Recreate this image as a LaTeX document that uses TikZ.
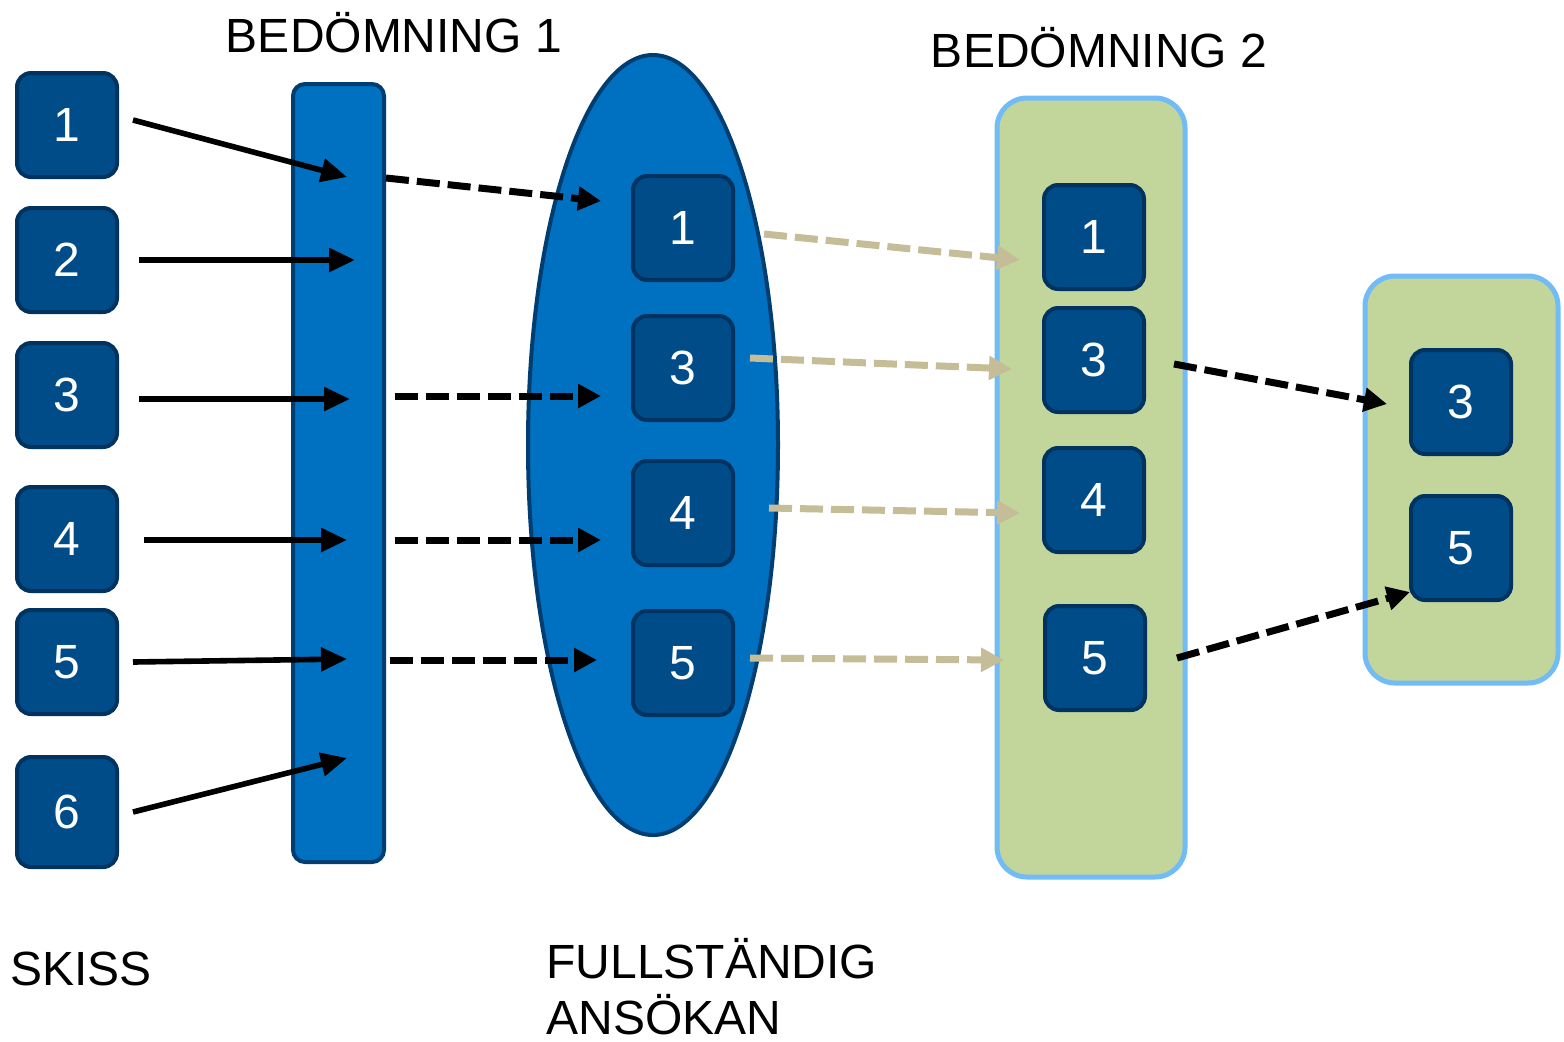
\documentclass[tikz,border=0pt]{standalone}
\usepackage{fontspec}
\setmainfont{Liberation Sans}
\usetikzlibrary{arrows.meta,calc,shapes.geometric}
\definecolor{sq}{HTML}{004C89}
\definecolor{sqb}{HTML}{00335F}
\definecolor{midb}{HTML}{0070C0}
\definecolor{midbb}{HTML}{003E72}
\definecolor{grn}{HTML}{C2D69B}
\definecolor{grnb}{HTML}{71BBF7}
\definecolor{beige}{HTML}{C4BD97}
\tikzset{
 numbox/.style={draw=sqb, fill=sq, line width=2pt, rounded corners=7pt, minimum width=50pt, minimum height=52pt, text=white, font=\fontsize{24}{28}\selectfont, inner sep=0pt},
 lbl/.style={font=\fontsize{24}{28}\selectfont, inner sep=0pt},
 leftlbl/.style={lbl, anchor=base west},
 solidarr/.style={line width=2.8pt, -{Triangle[length=13pt,width=11.5pt]}},
 darr/.style={line width=3.5pt, dash pattern=on 11.5pt off 4pt, -{Triangle[length=11.5pt,width=11.5pt]}},
 barr/.style={draw=beige, line width=3.5pt, dash pattern=on 11.5pt off 4pt, -{Triangle[length=11.5pt,width=11.5pt]}},
 greenbox/.style={draw=grnb, fill=grn, line width=2.5pt, rounded corners=15pt},
}
\begin{document}
\begin{tikzpicture}[x=0.5pt,y=-0.5pt]
\path[use as bounding box, fill=white] (0,0) rectangle (1564,1041);
% containers
\node[draw=midbb, fill=midb, line width=2pt, rounded corners=6pt, minimum width=45.5pt, minimum height=389pt, inner sep=0pt] (bar) at (338.5,473) {};
\node[ellipse, draw=midbb, fill=midb, line width=2pt, minimum width=125pt, minimum height=390pt, inner sep=0pt] (ell) at (653,445) {};
\node[greenbox, minimum width=94pt, minimum height=389.5pt, inner sep=0pt] (gb1) at (1091,487.5) {};
\node[greenbox, minimum width=96.5pt, minimum height=203.5pt, inner sep=0pt] (gb2) at (1461.5,479.5) {};
% labels
\node[lbl, anchor=base] (lb1) at (394,52) {BEDÖMNING 1};
\node[lbl, anchor=base] (lb2) at (1099,67) {BEDÖMNING 2};
\node[leftlbl] (lsk) at (10,985) {SKISS};
\node[leftlbl] (lfa) at (546,978) {FULLSTÄNDIG};
\node[leftlbl] (lfb) at (546,1034) {ANSÖKAN};
% skiss boxes
\node[numbox] (s1) at (67,125) {1};
\node[numbox] (s2) at (67,260) {2};
\node[numbox] (s3) at (67,395) {3};
\node[numbox] (s4) at (67,539) {4};
\node[numbox] (s5) at (67,662) {5};
\node[numbox, minimum height=55pt] (s6) at (67,812) {6};
% ellipse boxes
\node[numbox] (e1) at (683,228) {1};
\node[numbox] (e3) at (683,368) {3};
\node[numbox] (e4) at (683,513) {4};
\node[numbox] (e5) at (683,663) {5};
% green box 1
\node[numbox] (g1) at (1094,237) {1};
\node[numbox] (g3) at (1094,360) {3};
\node[numbox] (g4) at (1094,500) {4};
\node[numbox] (g5) at (1095,658) {5};
% green box 2
\node[numbox] (h3) at (1461,402) {3};
\node[numbox] (h5) at (1461,548) {5};
% target coordinates in the bar
\coordinate (b1) at (347,177);
\coordinate (b2) at (355,260);
\coordinate (b3) at (350,399);
\coordinate (b4) at (347,540);
\coordinate (b5) at (347,659);
\coordinate (b6) at (347,758);
% targets in the ellipse
\coordinate (ea1) at (601,201);
\coordinate (ea3) at (601,396);
\coordinate (ea4) at (601,540);
\coordinate (ea5) at (597,660);
% solid arrows
\draw[solidarr] ($(s1.east)+(14,-5)$) -- (b1);
\draw[solidarr] ($(s2.east)+(20,0)$) -- (b2);
\draw[solidarr] ($(s3.east)+(20,4)$) -- (b3);
\draw[solidarr] ($(s4.east)+(25,1)$) -- (b4);
\draw[solidarr] ($(s5.east)+(14,0)$) -- (b5);
\draw[solidarr] ($(s6.east)+(14,0)$) -- (b6);
% dashed from bar
\draw[darr] ($(bar.east)+(0,-295)$) -- (ea1);
\draw[darr] ($(bar.east)+(9,-77)$) -- (ea3);
\draw[darr] ($(bar.east)+(9,67)$) -- (ea4);
\draw[darr] ($(bar.east)+(4,187)$) -- (ea5);
% beige
\draw[barr] ($(e1.east)+(29,6)$) -- ($(g1.west)+(-22,23)$);
\draw[barr] ($(e3.east)+(15,-10)$) -- ($(g3.west)+(-30,9)$);
\draw[barr] ($(e4.east)+(34,-5)$) -- ($(g4.west)+(-22,13)$);
\draw[barr] ($(e5.east)+(15,-5)$) -- ($(g5.west)+(-39,2)$);
% to box 2
\draw[darr] ($(g3.east)+(28,4)$) -- ($(h3.west)+(-22,2)$);
\draw[darr] ($(g5.east)+(30,0)$) -- ($(h5.south west)+(1,-10)$);
\end{tikzpicture}
\end{document}
